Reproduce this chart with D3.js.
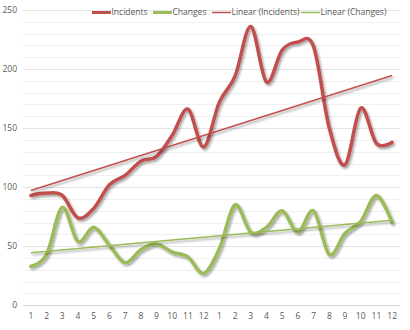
<!DOCTYPE html>
<html><head><meta charset="utf-8">
<script src="https://cdn.jsdelivr.net/npm/d3@7"></script>
<style>
html,body{margin:0;padding:0;background:#fff;}
svg{display:block;font-family:"Open Sans","Liberation Sans",sans-serif;}
</style></head>
<body><svg id="c" width="410" height="330"></svg>
<script>
const categories = ["1","2","3","4","5","6","7","8","9","10","11","12","1","2","3","4","5","6","7","8","9","10","11","12"];
const incidents = [93,95,93,74,82,102,110,122,126,144,166,134,172,194,236,189,216,223,219,150,119,167,137,138];
const changes   = [33,43,83,54,66,51,36,47,52,45,41,27,48,85,62,66,80,62,80,43,61,71,93,70];
const yTicks = [0,50,100,150,200,250];
const legendLabels = ["Incidents","Changes","Linear (Incidents)","Linear (Changes)"];

const RED = "#C0504D", GREEN = "#9BBB59";
const svg = d3.select("#c");
const idx = d3.range(categories.length);
const x = d3.scaleBand().domain(idx).range([23, 400]);
const cx = i => x(i) + x.bandwidth()/2;
const y = d3.scaleLinear().domain([0, 250]).range([305.3, 10]);

const defs = svg.append("defs");
const f = defs.append("filter").attr("id","sh").attr("x","-10%").attr("y","-10%").attr("width","120%").attr("height","130%");
f.append("feDropShadow").attr("dx",1.5).attr("dy",2).attr("stdDeviation",1.3).attr("flood-color","#000").attr("flood-opacity",0.35);

// gridlines every 10
const minor = d3.range(0, 251, 10);
svg.append("g").selectAll("line").data(minor).join("line")
  .attr("x1",23).attr("x2",400)
  .attr("y1",d=>Math.round(y(d))+0.5).attr("y2",d=>Math.round(y(d))+0.5)
  .attr("stroke",d=> d===0 ? "#d4d4d4" : (d%50===0 ? "#e3e3e3" : "#f0f0f0"))
  .attr("stroke-width",1);

// y axis labels
svg.append("g").selectAll("text").data(yTicks).join("text")
  .attr("x",17).attr("y",d=>y(d)).attr("dy","0.35em")
  .attr("text-anchor","end").attr("font-size",8.5).attr("fill","#595959")
  .text(d=>d);

// x axis labels
svg.append("g").selectAll("text").data(idx).join("text")
  .attr("x",i=>cx(i)).attr("y",316).attr("dy","0.35em")
  .attr("text-anchor","middle").attr("font-size",8.5).attr("fill","#595959")
  .text(i=>categories[i]);

function regress(vals){
  const n = vals.length, xs = d3.range(1,n+1);
  const mx = d3.mean(xs), my = d3.mean(vals);
  let sxy=0, sxx=0;
  xs.forEach((xv,k)=>{ sxy += (xv-mx)*(vals[k]-my); sxx += (xv-mx)*(xv-mx); });
  const b = sxy/sxx, a = my - b*mx;
  return xv => a + b*xv;
}

const line = d3.line().x((d,i)=>cx(i)).y(d=>y(d)).curve(d3.curveCardinal.tension(0));
const lin = d3.line().x(d=>d[0]).y(d=>d[1]);

function series(vals, color){
  svg.append("path").attr("d", line(vals)).attr("fill","none")
    .attr("stroke",color).attr("stroke-width",3.5).attr("stroke-linejoin","round").attr("stroke-linecap","round")
    .attr("filter","url(#sh)");
}
function trend(vals, color){
  const r = regress(vals);
  const n = vals.length;
  svg.append("path").attr("d", lin([[cx(0), y(r(1))],[cx(n-1), y(r(n))]]))
    .attr("fill","none").attr("stroke",color).attr("stroke-width",1.5).attr("filter","url(#sh)");
}
series(changes, GREEN);
series(incidents, RED);
trend(incidents, RED);
trend(changes, GREEN);

// legend
const leg = [
  {t:legendLabels[0], c:RED, w:3, x0:92},
  {t:legendLabels[1], c:GREEN, w:3, x0:153},
  {t:legendLabels[2], c:RED, w:1.5, x0:212},
  {t:legendLabels[3], c:GREEN, w:1.5, x0:301}
];
const lg = svg.append("g");
leg.forEach(d=>{
  lg.append("line").attr("x1",d.x0).attr("x2",d.x0+19).attr("y1",12.5).attr("y2",12.5)
    .attr("stroke",d.c).attr("stroke-width",d.w);
  lg.append("text").attr("x",d.x0+19.5).attr("y",12.5).attr("dy","0.35em")
    .attr("font-size",8.5).attr("fill","#595959").text(d.t);
});
</script></body></html>
